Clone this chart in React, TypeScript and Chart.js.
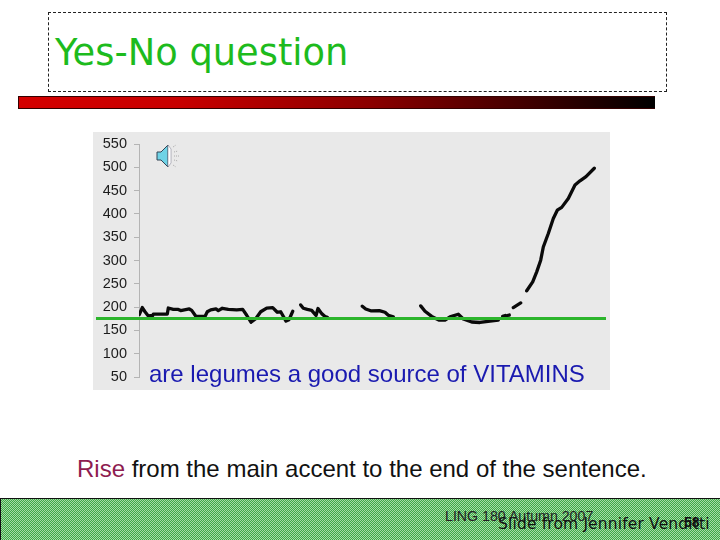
import React, { useEffect, useRef } from "react";
import { Chart, registerables } from "chart.js";

Chart.register(...registerables);

const yTicks = [50, 100, 150, 200, 250, 300, 350, 400, 450, 500, 550];
const referenceLevel = 175.5;
const referenceSpan = [-43, 467];

const pitchTimes = [
  0.3, 3.3, 6, 9.3, 13.7, 14.3, 28.3, 29.3, 34.3, 39.3, 41.7, 50.3, 52.7, 57, 66, 68.3, 71.7, 77, 79.3, 83.3, 89.3, 97.7, 103.7, 107.7, 112, 116.7, 121.7, 127.7, 133.7, 138.3, 141.7, 147, 150, 152, 153.7,
  158,
  161.7, 164.3, 168.3, 172.7, 177, 179, 182.7, 186, 188.3,
  205,
  223.3, 226.7, 231.7, 240.3, 246, 249.3, 254.3,
  270,
  281.7, 286, 292.7, 300.3, 306, 311, 319.3, 324.3, 332.7, 341, 351, 359.3,
  361,
  363.7, 366.3,
  367,
  368.3, 370.3,
  372,
  374.3, 381.7,
  385,
  387.7, 393.7, 397.7, 401.7, 404.3, 409.3, 414.3, 418.3, 422.7, 429.3, 436, 441, 447, 455.3,
];
const pitchValues: (number | null)[] = [
  184, 199, 190, 181, 182, 185, 185, 198, 195, 195, 192.5, 196, 193, 180, 180, 190, 194, 196, 192.5, 197.5, 195, 194, 195, 182.5, 167.5, 175, 190, 198, 199, 189, 190, 170, 173, 182.5, 191,
  null,
  204.7, 197.5, 195, 193, 182, 197, 186, 180, 178,
  null,
  202, 196, 192, 192.5, 189, 182.5, 179,
  null,
  202.6, 191, 180, 172, 172, 179, 184.7, 174.6, 168, 167, 170, 172,
  null,
  180, 182,
  null,
  182, 183,
  null,
  199, 209,
  null,
  235, 254, 275.6, 300.7, 329, 358, 390, 408, 414, 433, 462, 471, 480, 498,
];

const abs = (left: number, top: number, extra: React.CSSProperties = {}): React.CSSProperties => ({
  position: "absolute",
  left,
  top,
  whiteSpace: "nowrap",
  ...extra,
});

export default function App() {
  const ref = useRef<HTMLCanvasElement>(null);
  useEffect(() => {
    const chart = new Chart(ref.current!, {
      type: "line",
      data: {
        datasets: [
          {
            data: pitchTimes.map((x, i) => ({ x, y: pitchValues[i] })),
            borderColor: "#0a0a0a",
            borderWidth: 3.3,
            borderCapStyle: "round",
            borderJoinStyle: "round",
            pointRadius: 0,
            spanGaps: false,
            order: 2,
          },
          {
            data: referenceSpan.map((x) => ({ x, y: referenceLevel })),
            borderColor: "#2cb52c",
            borderWidth: 3,
            pointRadius: 0,
            clip: false,
            order: 1,
          },
        ],
      } as any,
      options: {
        animation: false,
        responsive: false,
        layout: { padding: { top: 12, bottom: 13, right: 4, left: 0 } },
        plugins: { legend: { display: false }, tooltip: { enabled: false } },
        scales: {
          x: { type: "linear", display: false, min: 0, max: 467 },
          y: {
            min: 50,
            max: 550,
            afterBuildTicks: (axis: any) => {
              axis.ticks = yTicks.map((value) => ({ value }));
            },
            afterFit: (axis: any) => {
              axis.width = 46;
              axis.paddingTop = 0;
              axis.paddingBottom = 0;
            },
            grid: { drawOnChartArea: false, color: "#b4b4b4", tickLength: 5 },
            border: { color: "#b4b4b4", display: true },
            ticks: {
              color: "#1c1c1c",
              padding: 7,
              font: { family: "Liberation Sans", size: 14.5 },
            },
          },
        },
      } as any,
    });
    return () => chart.destroy();
  }, []);

  return (
    <div style={abs(0, 0, { width: 720, height: 540, overflow: "hidden", background: "#fff", fontFamily: "Liberation Sans" })}>
      <div style={abs(48, 12, { width: 617, height: 78, border: "1px dashed #222" })} />
      <div style={abs(55, 31, { fontFamily: "DejaVu Sans", fontSize: 36.8, lineHeight: "44px", color: "#1dbb1d" })}>Yes-No question</div>
      <div
        style={abs(18, 96, {
          width: 636,
          height: 11,
          border: "1px solid #300",
          borderRight: "none",
          background: "linear-gradient(90deg,#d40000 0%,#c80000 25%,#8c0000 55%,#400000 80%,#000 100%)",
        })}
      />
      <div style={abs(93, 132, { width: 517, height: 258, background: "#e9e9e9" })} />
      <canvas ref={ref} width={517} height={258} style={abs(93, 132, { display: "block" })} />
      <svg style={abs(155, 143)} width={26} height={26} viewBox="0 0 26 26">
        <path d="M2 9h4l7-7v22l-7-7H2z" fill="#6fd3e6" stroke="#345" strokeWidth="1" />
        <path d="M13 2l3 4v14l-3 4z" fill="#fff" stroke="#889" strokeWidth="0.6" />
        <path d="M18 4l3-2M19 9l4-1M19 13h5M19 17l4 1M18 22l3 2" stroke="#aaa" strokeWidth="1" strokeDasharray="1 1" />
      </svg>
      <div style={abs(149, 360, { fontSize: 24, lineHeight: "27px", color: "#1a1ab0" })}>are legumes a good source of VITAMINS</div>
      <div style={abs(77, 456, { fontSize: 24, lineHeight: "26px", color: "#111" })}>
        <span style={{ color: "#8e1c50" }}>Rise</span> from the main accent to the end of the sentence.
      </div>
      <div
        style={abs(0, 498, {
          width: 720,
          height: 42,
          boxSizing: "border-box",
          borderTop: "1px solid #111",
          borderLeft: "1px solid #111",
          backgroundImage: "repeating-conic-gradient(#3da846 0 25%, #a4dca6 0 50%)",
          backgroundSize: "2px 2px",
        })}
      />
      <div style={abs(445, 508, { fontSize: 14.2, lineHeight: "16px", color: "#222" })}>LING 180 Autumn 2007</div>
      <div style={abs(498, 514, { fontFamily: "DejaVu Sans", fontSize: 15.5, lineHeight: "20px", letterSpacing: 0.15, color: "#111" })}>Slide from Jennifer Venditti</div>
      <div style={abs(684, 514, { fontSize: 14, lineHeight: "16px", fontWeight: "bold", color: "#111" })}>58</div>
    </div>
  );
}
